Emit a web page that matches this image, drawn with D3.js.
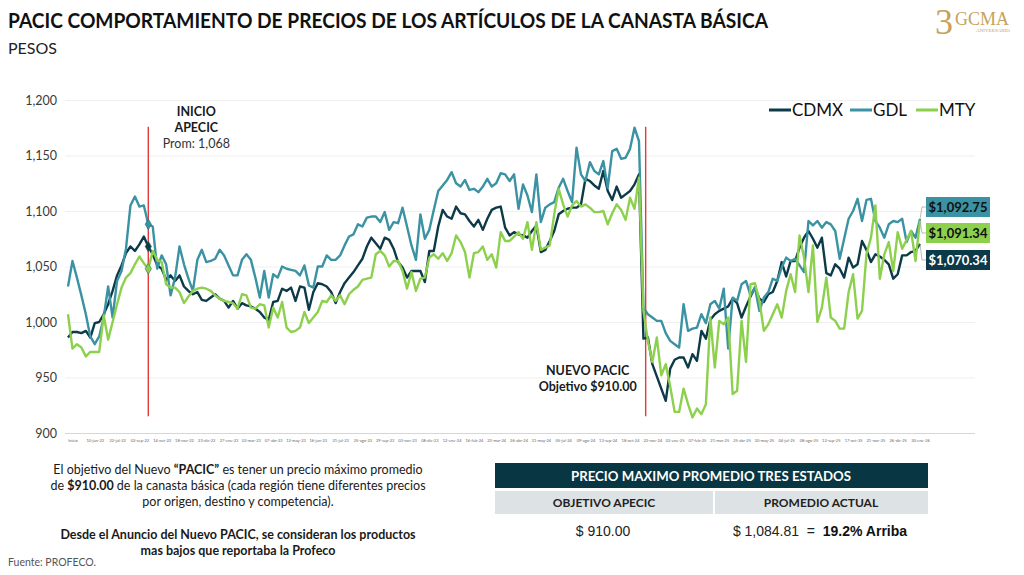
<!DOCTYPE html>
<html>
<head>
<meta charset="utf-8">
<script src="https://cdn.jsdelivr.net/npm/d3@7"></script>
<style>
  body { margin: 0; background: #fff; overflow: hidden; }
  svg { display: block; }
  text { font-family: Lato, "Open Sans", sans-serif; }
</style>
</head>
<body>
<div id="chart"></div>
<script>
// weekly prices, one value per category on the x axis
const cdmx = [
  986, 991, 991, 990, 992, 986, 999, 1000, 1007, 1016,
  1028, 1042, 1051, 1062, 1068, 1064, 1070, 1077, 1068, 1061,
  1051, 1048, 1038, 1042, 1037, 1042, 1032, 1028, 1025, 1027,
  1020, 1019, 1022, 1025, 1021, 1019, 1013, 1019, 1012, 1017,
  1015, 1014, 1012, 1009, 1004, 1002, 1018, 1019, 1030, 1028,
  1031, 1019, 1032, 1031, 1011, 1027, 1035, 1034, 1032, 1027,
  1017, 1027, 1035, 1040, 1045, 1051, 1057, 1068, 1076, 1071,
  1066, 1076, 1074, 1066, 1054, 1049, 1040, 1046, 1046, 1046,
  1036, 1064, 1064, 1086, 1101, 1095, 1093, 1104, 1098, 1097,
  1091, 1086, 1092, 1083, 1093, 1101, 1103, 1104, 1085, 1078,
  1081, 1079, 1078, 1076, 1082, 1087, 1063, 1065, 1073, 1082,
  1097, 1100, 1102, 1103, 1103, 1106, 1129, 1127, 1123, 1120,
  1136, 1118, 1110, 1122, 1112, 1115, 1118, 1124, 1133, 985,
  986, 962, 951, 940, 929, 958, 966, 968, 968, 959,
  971, 965, 992, 985, 1002, 1007, 1010, 1012, 1014, 1021,
  1017, 1004, 1014, 1023, 1031, 1021, 1018, 1025, 1027, 1037,
  1054, 1041, 1055, 1055, 1067, 1076, 1082, 1075, 1067, 1076,
  1044, 1042, 1052, 1048, 1040, 1058, 1049, 1052, 1073, 1065,
  1054, 1061, 1059, 1056, 1052, 1039, 1043, 1060, 1060, 1063,
  1064, 1070.34
];
const gdl = [
  1032, 1055, 1040, 1024, 1007, 987, 980, 987, 1004, 1032,
  1004, 1037, 1046, 1066, 1105, 1113, 1104, 1105, 1088, 1086,
  1048, 1060, 1052, 1024, 1040, 1068, 1052, 1039, 1028, 1056,
  1065, 1054, 1055, 1057, 1065, 1060, 1051, 1042, 1042, 1056,
  1061, 1056, 1040, 1022, 1046, 1022, 1043, 1040, 1050, 1048,
  1047, 1046, 1042, 1051, 1033, 1031, 1050, 1050, 1060, 1056,
  1056, 1060, 1069, 1077, 1079, 1088, 1086, 1094, 1095, 1095,
  1090, 1099, 1083, 1090, 1089, 1103, 1086, 1069, 1056, 1097,
  1075, 1083, 1101, 1118, 1123, 1128, 1135, 1125, 1122, 1128,
  1119, 1120, 1117, 1122, 1129, 1122, 1125, 1134, 1133, 1127,
  1133, 1102, 1124, 1114, 1099, 1133, 1090, 1103, 1106, 1108,
  1121, 1129, 1118, 1108, 1157, 1133, 1127, 1144, 1136, 1133,
  1145, 1121, 1154, 1156, 1147, 1148, 1156, 1175, 1163, 1013,
  1007, 1004, 1001, 1001, 990, 983, 980, 977, 1016, 992,
  994, 995, 1007, 999, 1016, 1019, 1012, 1030, 976, 1022,
  1019, 1034, 1037, 1024, 1031, 1010, 1022, 1027, 1039, 1037,
  1049, 1058, 1055, 1057, 1051, 1045, 1091, 1087, 1091, 1085,
  1090, 1088, 1082, 1057, 1075, 1093, 1100, 1111, 1091, 1110,
  1111, 1091, 1085, 1076, 1088, 1091, 1090, 1093, 1072, 1082,
  1076, 1092.75
];
const mty = [
  1007, 976, 980, 977, 969, 973, 973, 973, 1006, 984,
  1000, 1016, 1031, 1040, 1044, 1052, 1059, 1053, 1048, 1064,
  1056, 1054, 1034, 1031, 1031, 1027, 1017, 1023, 1028, 1030,
  1031, 1030, 1028, 1024, 1021, 1019, 1018, 1017, 1012, 1025,
  1024, 1013, 1012, 1016, 1015, 995, 1013, 1004, 1018, 995,
  991, 992, 995, 1009, 999, 1004, 1009, 1019, 1018, 1024,
  1019, 1024, 1016, 1025, 1029, 1032, 1038, 1039, 1040, 1061,
  1064, 1060, 1050, 1055, 1055, 1046, 1030, 1045, 1028, 1039,
  1040, 1058, 1061, 1057, 1062, 1055, 1062, 1078, 1072, 1063,
  1040, 1062, 1063, 1068, 1056, 1061, 1049, 1081, 1073, 1073,
  1077, 1081, 1075, 1090, 1065, 1090, 1065, 1067, 1069, 1097,
  1120, 1106, 1095, 1105, 1109, 1104, 1106, 1103, 1099, 1099,
  1100, 1088, 1098, 1106, 1101, 1092, 1112, 1102, 1130, 1010,
  983, 964, 986, 952, 962, 942, 919, 919, 940, 926,
  914, 922, 917, 926, 1004, 959, 1001, 998, 1004, 935,
  938, 1001, 964, 1034, 1035, 1019, 992, 998, 1007, 1016,
  1004, 1028, 1043, 1027, 1078, 1058, 1027, 1069, 1000, 1013,
  1040, 1004, 1001, 994, 994, 1027, 1043, 1003, 1010, 1061,
  1076, 1105, 1039, 1061, 1072, 1046, 1081, 1066, 1074, 1082,
  1055, 1091.34
];

// every fifth category carries a label
const xLabels = [
  'Inicio', '10-jun-22', '22-jul-22', '02-sep-22', '14-oct-22', '18-nov-22', '23-dic-22',
  '27-ene-23', '03-mar-23', '07-abr-23', '12-may-23', '16-jun-23', '21-jul-23', '25-ago-23',
  '29-sep-23', '03-nov-23', '08-dic-23', '12-ene-24', '16-feb-24', '22-mar-24', '26-abr-24',
  '31-may-24', '05-jul-24', '09-ago-24', '13-sep-24', '18-oct-24', '22-nov-24', '03-ene-25',
  '07-feb-25', '21-mar-25', '25-abr-25', '30-may-25', '04-jul-25', '08-ago-25', '12-sep-25',
  '17-oct-25', '21-nov-25', '26-dic-25', '30-ene-26'
];
const yTicks = [900, 950, 1000, 1050, 1100, 1150, 1200];

const seriesNames = ['CDMX', 'GDL', 'MTY'];
const seriesColors = ['#0c3a48', '#3a92a2', '#8dd04d'];
const lastLabels = ['$1,070.34', '$1,092.75', '$1,091.34'];

const inicioIdx = 18;     // INICIO APECIC
const pacicIdx = 129.5;   // NUEVO PACIC

const series = seriesNames.map((name, k) => ({
  name, color: seriesColors[k], values: [cdmx, gdl, mty][k]
}));

const width = 1024, height = 575;
const margin = { left: 65, right: 49, top: 100, bottom: 142 };
const innerWidth = width - margin.left - margin.right;
const innerHeight = height - margin.top - margin.bottom;

const svg = d3.select('#chart').append('svg')
  .attr('width', width)
  .attr('height', height);

// title
svg.append('text')
  .attr('x', 8).attr('y', 28)
  .attr('font-size', 21).attr('font-weight', 700).attr('fill', '#111')
  .attr('textLength', 760).attr('lengthAdjust', 'spacingAndGlyphs')
  .text('PACIC COMPORTAMIENTO DE PRECIOS DE LOS ARTÍCULOS DE LA CANASTA BÁSICA');
svg.append('text')
  .attr('x', 8).attr('y', 54)
  .attr('font-size', 16).attr('fill', '#222')
  .text('PESOS');

// logo
const logo = svg.append('g').attr('fill', '#c6a25a');
logo.append('text').attr('x', 935).attr('y', 34).attr('font-size', 36)
  .style('font-family', '"Liberation Serif", serif').text('3');
logo.append('text').attr('x', 955).attr('y', 25).attr('font-size', 18)
  .style('font-family', '"Liberation Serif", serif').text('GCMA');
logo.append('text').attr('x', 976).attr('y', 32).attr('font-size', 5)
  .style('font-family', '"Liberation Serif", serif').text('ANIVERSARIO');

const g = svg.append('g')
  .attr('transform', `translate(${margin.left},${margin.top})`);

const xScale = d3.scaleLinear()
  .domain([0, cdmx.length - 1])
  .range([3, 855]);
const yScale = d3.scaleLinear()
  .domain([900, 1200])
  .range([innerHeight, 0]);

const yAxis = d3.axisLeft(yScale)
  .tickValues(yTicks)
  .tickSize(-innerWidth)
  .tickPadding(8)
  .tickFormat(d3.format(','));

const yAxisG = g.append('g').call(yAxis);
yAxisG.select('.domain').remove();
yAxisG.selectAll('line').attr('stroke', d => d === 900 ? '#d6d6d6' : '#efefef');
yAxisG.selectAll('text')
  .attr('font-size', 12.5).attr('fill', '#3a3a3a')
  .style('font-family', 'Lato, sans-serif');

const xTickIdx = xLabels.map((t, k) => 1 + 5 * k);
const xAxis = d3.axisBottom(xScale)
  .tickValues(xTickIdx)
  .tickSize(0)
  .tickPadding(6)
  .tickFormat(d => xLabels[(d - 1) / 5]);
const xAxisG = g.append('g')
  .attr('transform', `translate(0,${innerHeight})`)
  .call(xAxis);
xAxisG.select('.domain').remove();
xAxisG.selectAll('text')
  .attr('font-size', 4).attr('fill', '#666')
  .style('font-family', 'Lato, sans-serif');

// red reference lines
[inicioIdx, pacicIdx].forEach(idx => {
  g.append('line')
    .attr('x1', xScale(idx)).attr('x2', xScale(idx))
    .attr('y1', yScale(1176)).attr('y2', yScale(915))
    .attr('stroke', '#e23b3b').attr('stroke-width', 1.4);
});

// series lines
const line = d3.line()
  .x((d, i) => xScale(i))
  .y(d => yScale(d));

g.selectAll('path.series').data(series)
  .enter().append('path')
  .attr('class', 'series')
  .attr('d', d => line(d.values))
  .attr('fill', 'none')
  .attr('stroke', d => d.color)
  .attr('stroke-width', 2.4)
  .attr('stroke-linejoin', 'round');

// markers where APECIC started
g.selectAll('path.mark').data(series)
  .enter().append('path')
  .attr('class', 'mark')
  .attr('transform', d => `translate(${xScale(inicioIdx)},${yScale(d.values[inicioIdx])})`)
  .attr('d', d3.symbol(d3.symbolDiamond).size(34))
  .attr('fill', d => d.color)
  .attr('stroke', '#2a6a5a').attr('stroke-width', 0.6);

// annotations
const ann = g.append('g').attr('text-anchor', 'middle').attr('font-size', 12.5).attr('fill', '#1a1a1a');
ann.append('text').attr('x', xScale(inicioIdx) + 48).attr('y', 16).attr('font-weight', 700).text('INICIO');
ann.append('text').attr('x', xScale(inicioIdx) + 48).attr('y', 32).attr('font-weight', 700).text('APECIC');
ann.append('text').attr('x', xScale(inicioIdx) + 48).attr('y', 48).attr('fill', '#333').text('Prom: 1,068');
ann.append('text').attr('x', xScale(pacicIdx) - 58).attr('y', 275).attr('font-weight', 700).text('NUEVO PACIC');
ann.append('text').attr('x', xScale(pacicIdx) - 58).attr('y', 291).attr('font-weight', 700).text('Objetivo $910.00');

// end value boxes
const boxY = [150, 97, 123];   // CDMX, GDL, MTY box tops (inner coords)
const boxText = ['#fff', '#111', '#111'];
series.forEach((s, k) => {
  const xEnd = xScale(s.values.length - 1);
  const yEnd = yScale(s.values[s.values.length - 1]);
  const bx = 861, by = boxY[k], bh = 20;
  g.append('polyline')
    .attr('points', `${xEnd},${yEnd} ${bx - 4},${by + bh / 2} ${bx},${by + bh / 2}`)
    .attr('fill', 'none').attr('stroke', '#aaa').attr('stroke-width', 0.8);
  g.append('rect')
    .attr('x', bx).attr('y', by).attr('width', 64).attr('height', bh)
    .attr('fill', s.color);
  g.append('text')
    .attr('x', bx + 32).attr('y', by + 14.5)
    .attr('text-anchor', 'middle').attr('font-size', 13).attr('font-weight', 700)
    .attr('fill', boxText[k])
    .text(lastLabels[k]);
});

// legend
const legend = g.append('g').attr('transform', 'translate(704,10)');
const legendX = [0, 81, 147];
series.forEach((s, k) => {
  legend.append('line')
    .attr('x1', legendX[k]).attr('x2', legendX[k] + 22)
    .attr('y1', 0).attr('y2', 0)
    .attr('stroke', s.color).attr('stroke-width', 3);
  legend.append('text')
    .attr('x', legendX[k] + 23).attr('y', 6)
    .attr('font-size', 17).attr('fill', '#111')
    .text(s.name);
});

// notes at the bottom
const notes = svg.append('g').attr('text-anchor', 'middle').attr('font-size', 12.5).attr('fill', '#1a1a1a');
const n1 = notes.append('text').attr('x', 238).attr('y', 474);
n1.append('tspan').text('El objetivo del Nuevo ');
n1.append('tspan').attr('font-weight', 700).text('“PACIC”');
n1.append('tspan').text(' es tener un precio máximo promedio');
const n2 = notes.append('text').attr('x', 238).attr('y', 490);
n2.append('tspan').text('de ');
n2.append('tspan').attr('font-weight', 700).text('$910.00');
n2.append('tspan').text(' de la canasta básica (cada región tiene diferentes precios');
notes.append('text').attr('x', 238).attr('y', 506).text('por origen, destino y competencia).');
notes.append('text').attr('x', 238).attr('y', 539).attr('font-weight', 700).text('Desde el Anuncio del Nuevo PACIC, se consideran los productos');
notes.append('text').attr('x', 238).attr('y', 555).attr('font-weight', 700).text('mas bajos que reportaba la Profeco');
svg.append('text').attr('x', 8).attr('y', 566).attr('font-size', 10.5).attr('fill', '#555').text('Fuente: PROFECO.');

// summary table
const tb = svg.append('g');
tb.append('rect').attr('x', 495).attr('y', 463).attr('width', 433).attr('height', 25).attr('fill', '#083642');
tb.append('text').attr('x', 711).attr('y', 481).attr('text-anchor', 'middle')
  .attr('font-size', 13.5).attr('font-weight', 700).attr('fill', '#fff')
  .attr('textLength', 280).attr('lengthAdjust', 'spacingAndGlyphs')
  .text('PRECIO MAXIMO PROMEDIO TRES ESTADOS');
tb.append('rect').attr('x', 495).attr('y', 491).attr('width', 218).attr('height', 23).attr('fill', '#dde3e5');
tb.append('rect').attr('x', 715).attr('y', 491).attr('width', 213).attr('height', 23).attr('fill', '#dde3e5');
tb.append('text').attr('x', 604).attr('y', 507).attr('text-anchor', 'middle')
  .attr('font-size', 12).attr('font-weight', 700).attr('fill', '#222').text('OBJETIVO APECIC');
tb.append('text').attr('x', 821).attr('y', 507).attr('text-anchor', 'middle')
  .attr('font-size', 12).attr('font-weight', 700).attr('fill', '#222').text('PROMEDIO ACTUAL');
tb.append('text').attr('x', 603).attr('y', 536).attr('text-anchor', 'middle')
  .attr('font-size', 14).attr('fill', '#222').style('font-family', '"Liberation Sans", Arial, sans-serif')
  .text('$ 910.00');
const cur = tb.append('text').attr('x', 820).attr('y', 536).attr('text-anchor', 'middle')
  .attr('font-size', 14).attr('fill', '#222').style('font-family', '"Liberation Sans", Arial, sans-serif');
cur.append('tspan').text('$ 1,084.81\u00a0 =\u00a0 ');
cur.append('tspan').attr('font-weight', 700).attr('fill', '#111').text('19.2% Arriba');
</script>
</body>
</html>
